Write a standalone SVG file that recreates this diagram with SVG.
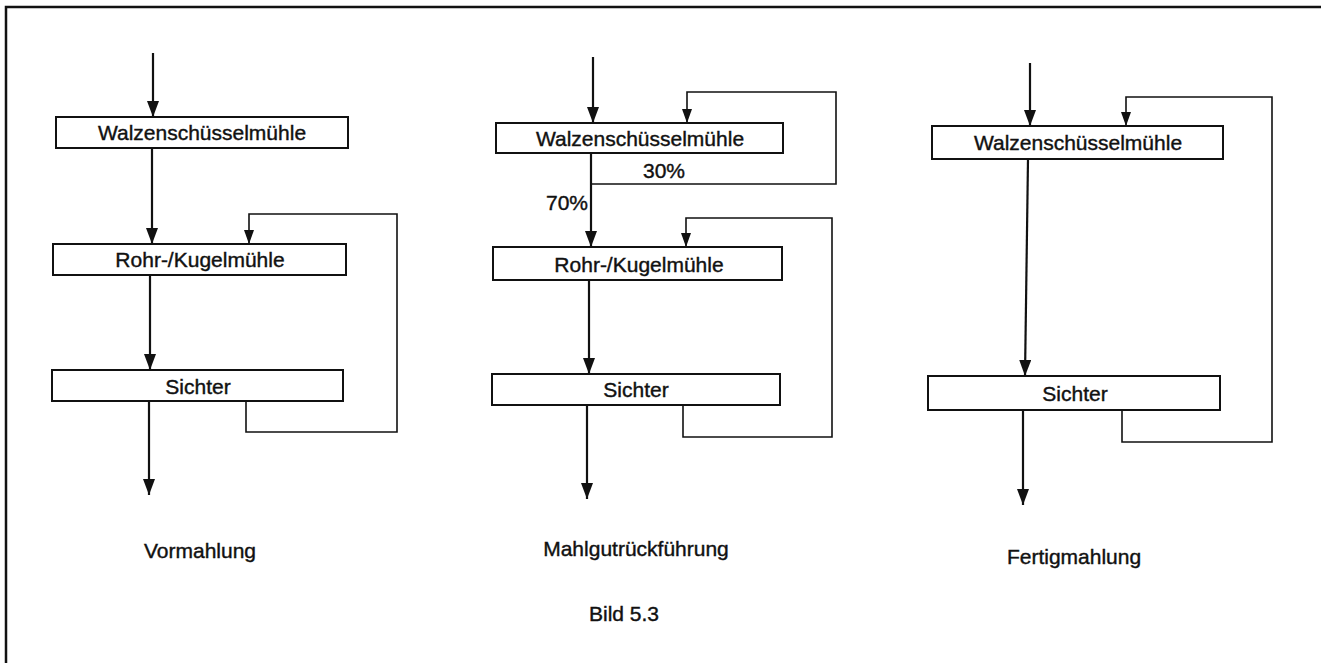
<svg xmlns="http://www.w3.org/2000/svg" width="1321" height="663" viewBox="0 0 1321 663">
<defs>
<marker id="ah" viewBox="0 0 16 12" refX="16" refY="6" markerWidth="16" markerHeight="12" orient="auto" markerUnits="userSpaceOnUse">
<path d="M0,0 L16,6 L0,12 z" fill="#111"/>
</marker>
<marker id="ahs" viewBox="0 0 14 10" refX="14" refY="5" markerWidth="14" markerHeight="10" orient="auto" markerUnits="userSpaceOnUse">
<path d="M0,0 L14,5 L0,10 z" fill="#111"/>
</marker>
<style>
.box{fill:#fff;stroke:#111;stroke-width:2}
.t{font-family:"Liberation Sans",Arial,sans-serif;font-size:21px;fill:#111;stroke:#111;stroke-width:0.4;text-anchor:middle}
.main{fill:none;stroke:#111;stroke-width:2.2}
.fb{fill:none;stroke:#111;stroke-width:1.6}
.arr{marker-end:url(#ah)}
.arrs{marker-end:url(#ahs)}
</style>
</defs>
<rect width="1321" height="663" fill="#fff"/>
<g id="frame">
<path d="M6,663 V7 H1321" fill="none" stroke="#111" stroke-width="2.5"/>
</g>
<g id="connectors">
<line class="main arr" x1="153" y1="53" x2="153" y2="117"/>
<line class="main arr" x1="152" y1="148" x2="152" y2="244"/>
<line class="main arr" x1="150" y1="275" x2="150" y2="370"/>
<line class="main arr" x1="149" y1="401" x2="149" y2="495"/>
<path class="fb arrs" d="M246,401 V432 H397 V214 H249 V244"/>
<line class="main arr" x1="593" y1="57" x2="593" y2="123"/>
<path class="fb arrs" d="M591,184 H836 V92 H687 V123"/>
<line class="main arr" x1="591" y1="153" x2="591" y2="247"/>
<line class="main arr" x1="589" y1="280" x2="589" y2="374"/>
<line class="main arr" x1="587" y1="405" x2="587" y2="499"/>
<path class="fb arrs" d="M683,405 V437 H832 V218 H686 V247"/>
<line class="main arr" x1="1030" y1="63" x2="1030" y2="126"/>
<line class="main arr" x1="1028" y1="159" x2="1025" y2="376"/>
<line class="main arr" x1="1023" y1="410" x2="1023" y2="505"/>
<path class="fb arrs" d="M1122,410 V442 H1272 V97 H1126 V126"/>
</g>
<g id="p1-walzen"><rect class="box" x="56" y="117" width="292" height="31"/><text class="t" x="202" y="140">Walzenschüsselmühle</text></g>
<g id="p1-rohr"><rect class="box" x="53" y="244" width="293" height="31"/><text class="t" x="200" y="267">Rohr-/Kugelmühle</text></g>
<g id="p1-sichter"><rect class="box" x="52" y="370" width="291" height="31"/><text class="t" x="198" y="394">Sichter</text></g>
<g id="p1-label"><text class="t" x="200" y="558">Vormahlung</text></g>
<g id="p2-walzen"><rect class="box" x="496" y="123" width="287" height="30"/><text class="t" x="640" y="146">Walzenschüsselmühle</text></g>
<g id="p2-30"><text class="t" x="664" y="178">30%</text></g>
<g id="p2-70"><text class="t" x="567" y="210">70%</text></g>
<g id="p2-rohr"><rect class="box" x="493" y="247" width="289" height="33"/><text class="t" x="639" y="272">Rohr-/Kugelmühle</text></g>
<g id="p2-sichter"><rect class="box" x="492" y="374" width="288" height="31"/><text class="t" x="636" y="397">Sichter</text></g>
<g id="p2-label"><text class="t" x="636" y="556">Mahlgutrückführung</text></g>
<g id="caption"><text class="t" x="624" y="621">Bild 5.3</text></g>
<g id="p3-walzen"><rect class="box" x="932" y="126" width="291" height="33"/><text class="t" x="1078" y="150">Walzenschüsselmühle</text></g>
<g id="p3-sichter"><rect class="box" x="928" y="376" width="292" height="34"/><text class="t" x="1075" y="401">Sichter</text></g>
<g id="p3-label"><text class="t" x="1074" y="564">Fertigmahlung</text></g>
</svg>
